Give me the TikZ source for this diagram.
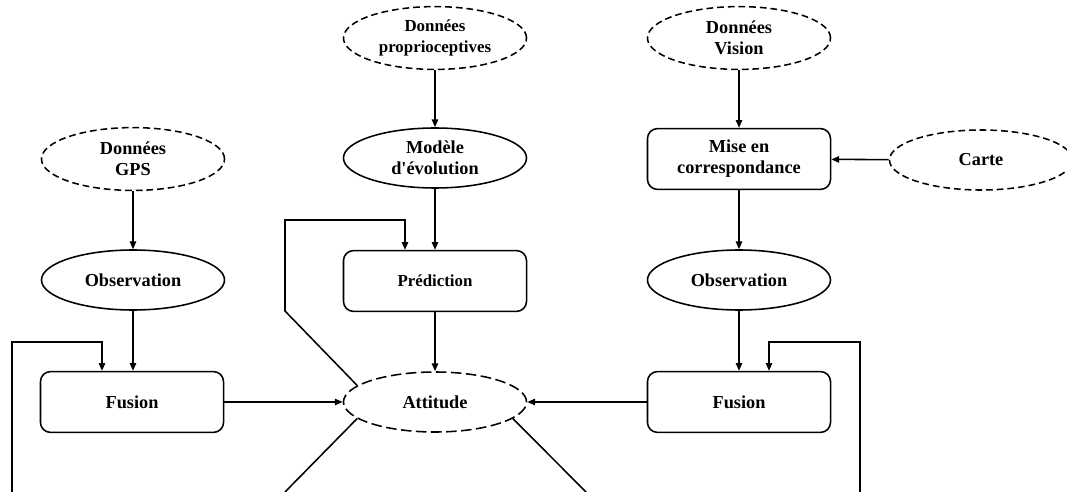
\documentclass[tikz,border=0pt]{standalone}
\usepackage{fontspec}
\setmainfont{Liberation Serif}
\usetikzlibrary{shapes.geometric,arrows.meta}

\begin{document}
\begin{tikzpicture}[x=0.025cm,y=-0.025cm,line width=1.1pt,
    box/.style={draw,rounded corners=0.25cm,minimum width=4.575cm,minimum height=1.52cm},
    oval/.style={draw,ellipse,minimum width=4.575cm,minimum height=1.5cm},
    data/.style={oval,minimum height=1.57cm,dash pattern=on 4.8pt off 2.8pt},
    estim/.style={oval,dash pattern=on 7.5pt off 3.2pt},
    small/.style={font=\bfseries\fontsize{12}{15}\selectfont},
    arr/.style={-{Triangle[length=5.5pt,width=4.5pt]}}]
    \tikzstyle{every node}+=[inner sep=0pt,align=center,font=\bfseries\fontsize{13}{15}\selectfont]
    \useasboundingbox (0,0) rectangle (1067,492);
    \clip (0,0) rectangle (1067,492);
    \node [data] (gps) at (133,159) {Données\\GPS};
    \node [oval] (obsL) at (133,280) {Observation};
    \node [box] (fusL) at (132,402) {Fusion};
    \node [data,small] (prop) at (435,38) {Données\\proprioceptives};
    \node [oval] (mod) at (435,158) {Modèle\\d\textquotesingle évolution};
    \node [box,small] (pred) at (435,281) {Prédiction};
    \node [estim] (att) at (435,402) {Attitude};
    \node [data] (vis) at (739,38) {Données\\Vision};
    \node [box] (mise) at (739,159) {Mise en\\correspondance};
    \node [data,minimum height=1.5cm] (carte) at (981,160) {Carte};
    \node [oval] (obsR) at (739,280) {Observation};
    \node [box] (fusR) at (739,402) {Fusion};
    \coordinate (fbL) at (12,492);
    \coordinate (inL) at (102,342);
    \coordinate (fbR) at (860,492);
    \coordinate (inR) at (769,342);
    \coordinate (loopA) at (285,311);
    \coordinate (loopB) at (405,220);
    \coordinate (outL) at (285,492);
    \coordinate (outR) at (586,492);
    \draw [arr] (gps) -- (obsL);
    \draw [arr] (obsL) -- (obsL |- fusL.north);
    \draw [arr] (fbL) |- (inL) -- (inL |- fusL.north);
    \draw [arr] (fusL) -- (att);
    \draw [arr] (prop) -- (mod);
    \draw [arr] (mod) -- (pred);
    \draw [arr] (pred) -- (att);
    \draw [arr] (att.168) -- (loopA) |- (loopB) -- (loopB |- pred.north);
    \draw (att.192) -- (outL);
    \draw (att.348) -- (outR);
    \draw [arr] (vis) -- (mise);
    \draw [arr] (carte) -- (mise);
    \draw [arr] (mise) -- (obsR);
    \draw [arr] (obsR) -- (fusR);
    \draw [arr] (fbR) |- (inR) -- (inR |- fusR.north);
    \draw [arr] (fusR) -- (att);
\end{tikzpicture}
\end{document}
